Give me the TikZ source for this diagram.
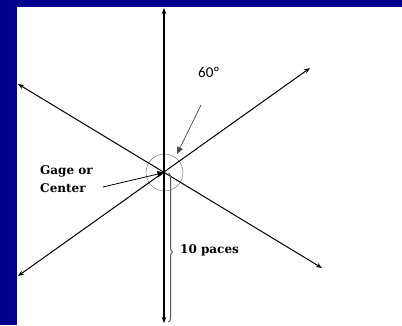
\documentclass[tikz,border=0pt]{standalone}
\usepackage{fontspec}
\setmainfont{DejaVu Serif}
\newfontfamily\degfont{Carlito}
\usetikzlibrary{arrows.meta,decorations.pathreplacing}
\definecolor{slideblue}{RGB}{0,0,140}
\tikzset{
  axis/.style={line width=1pt,{Stealth[length=6pt,width=4.5pt]}-{Stealth[length=6pt,width=4.5pt]}},
  pointer/.style={-{Triangle[length=7pt,width=6pt]}},
  lbl/.style={font=\bfseries\fontsize{12}{18}\selectfont,inner sep=0pt}
}
\begin{document}
\begin{tikzpicture}[x=1pt,y=-1pt]
\fill[slideblue] (0,0) rectangle (402,325);
\fill[white] (17,7) rectangle (402,325);
\useasboundingbox (0,0) rectangle (402,325);
% ends of the four lines
\coordinate (top) at (164,8);
\coordinate (bot) at (164,323);
\coordinate (nw) at (18,84);
\coordinate (se) at (322,268);
\coordinate (ne) at (310,68);
\coordinate (sw) at (18,276);
\node[circle,draw=gray!80!black,minimum size=37pt,inner sep=0pt] (gage) at (164.5,172.5) {};
\draw[axis,line width=1.4pt] (top) -- (bot);
\draw[axis] (nw) -- (se);
\draw[axis] (sw) -- (ne);
% 10 paces
\coordinate (bracetop) at (168.5,173);
\coordinate (bracebot) at (168.5,322);
\draw[gray!70!black,line width=1pt,decorate,decoration={brace,amplitude=4pt,aspect=0.53}] (bracetop) -- (bracebot);
\node[lbl,anchor=west] (paces) at (180,250) {10 paces};
% 60 degrees
\node[font=\degfont\fontsize{15}{15}\selectfont,inner sep=0pt] (deg) at (209,72) {60º};
\coordinate (degtail) at (201,105);
\coordinate (degtip) at (177,154);
\draw[pointer,gray!60!black,line width=0.7pt] (degtail) -- (degtip);
% gage
\node[lbl,align=left,anchor=west] (gagetext) at (40,179) {Gage or\\Center};
\coordinate (gagetail) at (103,187);
\draw[pointer,line width=0.8pt] (gagetail) -- (gage.center);
\end{tikzpicture}
\end{document}
